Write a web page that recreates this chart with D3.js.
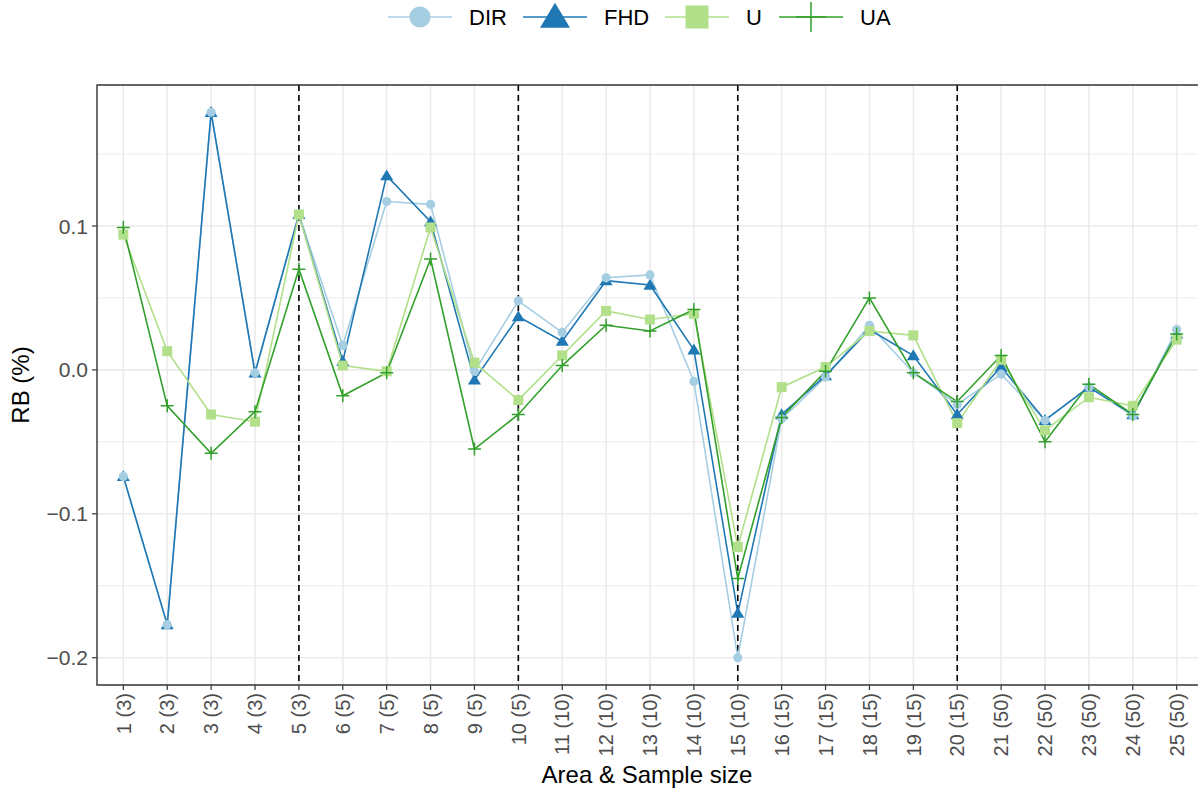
<!DOCTYPE html>
<html>
<head>
<meta charset="utf-8">
<script src="https://cdnjs.cloudflare.com/ajax/libs/d3/7.8.5/d3.min.js"></script>
<style>
  body { margin: 0; background: #fff; }
  svg { display: block; font-family: "Liberation Sans", Arial, sans-serif; }
</style>
</head>
<body>
<div id="chart"></div>
<script>
// areas & sample sizes
var areas = ["1 (3)","2 (3)","3 (3)","4 (3)","5 (3)","6 (5)","7 (5)","8 (5)","9 (5)","10 (5)",
  "11 (10)","12 (10)","13 (10)","14 (10)","15 (10)","16 (15)","17 (15)","18 (15)","19 (15)","20 (15)",
  "21 (50)","22 (50)","23 (50)","24 (50)","25 (50)"];

var dir = [-0.074,-0.177,0.179,-0.002,0.108,0.017,0.117,0.115,-0.001,0.048,
  0.026,0.064,0.066,-0.008,-0.200,-0.034,-0.005,0.031,-0.002,-0.024,
  -0.003,-0.035,-0.012,-0.032,0.028];
var fhd = [-0.074,-0.177,0.179,-0.002,0.108,0.006,0.135,0.103,-0.007,0.037,
  0.020,0.062,0.059,0.014,-0.169,-0.031,-0.004,0.028,0.010,-0.031,
  0.002,-0.035,-0.012,-0.031,0.025];
var u = [0.094,0.013,-0.031,-0.036,0.108,0.003,-0.001,0.099,0.005,-0.021,
  0.010,0.041,0.035,0.039,-0.123,-0.012,0.002,0.027,0.024,-0.037,
  0.007,-0.042,-0.019,-0.025,0.021];
var ua = [0.099,-0.025,-0.058,-0.029,0.070,-0.018,-0.002,0.077,-0.055,-0.031,
  0.003,0.031,0.027,0.042,-0.145,-0.033,-0.001,0.050,-0.002,-0.022,
  0.010,-0.050,-0.010,-0.031,0.025];

var yTicks = [-0.2,-0.1,0.0,0.1];
var yMinor = [-0.15,-0.05,0.05,0.15];
var dividers = ["5 (3)","10 (5)","15 (10)","20 (15)"];

var series = [
  {name:"DIR", vals:dir, color:"#a6cee3", shape:"circle"},
  {name:"FHD", vals:fhd, color:"#1f78b4", shape:"triangle"},
  {name:"U",   vals:u,   color:"#b2df8a", shape:"square"},
  {name:"UA",  vals:ua,  color:"#33a02c", shape:"plus"}
];

var W = 1198, H = 792;
var m = {top: 85, left: 97, right: 1203, bottom: 685};

var svg = d3.select("#chart").append("svg").attr("width", W).attr("height", H);

var x = d3.scalePoint().domain(areas).range([m.left, m.right]).padding(0.6);
var allV = dir.concat(fhd, u, ua);
var ext = d3.extent(allV), pad = (ext[1]-ext[0])*0.05;
var y = d3.scaleLinear().domain([ext[0]-pad, ext[1]+pad]).range([m.bottom, m.top]);

var panel = svg.append("g");
// grid
panel.selectAll(".ymin").data(yMinor).enter().append("line")
  .attr("x1", m.left).attr("x2", m.right)
  .attr("y1", d => y(d)).attr("y2", d => y(d))
  .attr("stroke", "#ebebeb").attr("stroke-width", 1);
panel.selectAll(".ymaj").data(yTicks).enter().append("line")
  .attr("x1", m.left).attr("x2", m.right)
  .attr("y1", d => y(d)).attr("y2", d => y(d))
  .attr("stroke", "#ebebeb").attr("stroke-width", 1.6);
panel.selectAll(".xmaj").data(areas).enter().append("line")
  .attr("x1", d => x(d)).attr("x2", d => x(d))
  .attr("y1", m.top).attr("y2", m.bottom)
  .attr("stroke", "#ebebeb").attr("stroke-width", 1.6);

// dashed dividers
panel.selectAll(".div").data(dividers).enter().append("line")
  .attr("x1", d => x(d)).attr("x2", d => x(d))
  .attr("y1", m.top).attr("y2", m.bottom)
  .attr("stroke", "#000").attr("stroke-width", 1.6).attr("stroke-dasharray", "6,4");

// lines
var line = d3.line().x((d, i) => x(areas[i])).y(d => y(d));
series.forEach(function(s) {
  panel.append("path").datum(s.vals).attr("d", line)
    .attr("fill", "none").attr("stroke", s.color).attr("stroke-width", 1.6);
});

function marker(g, shape, color, sc) {
  if (shape === "circle") {
    g.append("circle").attr("r", 4.6*sc).attr("fill", color);
  } else if (shape === "triangle") {
    var h = 6.2*sc;
    g.append("path").attr("d", "M0," + (-h) + "L" + (h*1.05) + "," + (h*0.75) + "L" + (-h*1.05) + "," + (h*0.75) + "Z").attr("fill", color);
  } else if (shape === "square") {
    g.append("rect").attr("x", -5*sc).attr("y", -5*sc).attr("width", 10*sc).attr("height", 10*sc).attr("fill", color);
  } else {
    var a = 6.5*sc;
    g.append("path").attr("d", "M" + (-a) + ",0H" + a + "M0," + (-a) + "V" + a)
      .attr("stroke", color).attr("stroke-width", 1.5).attr("fill", "none");
  }
}

// points: FHD under DIR
var order = [1, 0, 2, 3];
order.forEach(function(k) {
  var s = series[k];
  s.vals.forEach(function(v, i) {
    var g = panel.append("g").attr("transform", "translate(" + x(areas[i]) + "," + y(v) + ")");
    marker(g, s.shape, s.color, 1);
  });
});

// panel border (left, top, bottom)
svg.append("path")
  .attr("d", "M" + m.right + "," + m.top + "H" + m.left + "V" + m.bottom + "H" + m.right)
  .attr("fill", "none").attr("stroke", "#333").attr("stroke-width", 1.4);

// y axis
var yAx = svg.append("g");
yTicks.forEach(function(t) {
  yAx.append("line").attr("x1", m.left - 5).attr("x2", m.left).attr("y1", y(t)).attr("y2", y(t))
    .attr("stroke", "#333").attr("stroke-width", 1.2);
  yAx.append("text").attr("x", m.left - 9).attr("y", y(t)).attr("dy", "0.36em")
    .attr("text-anchor", "end").attr("fill", "#4d4d4d").style("font-size", "21px")
    .text(d3.format(".1f")(t).replace("-", "\u2212"));
});

// x axis
var xAx = svg.append("g");
areas.forEach(function(a) {
  xAx.append("line").attr("x1", x(a)).attr("x2", x(a)).attr("y1", m.bottom).attr("y2", m.bottom + 5)
    .attr("stroke", "#333").attr("stroke-width", 1.2);
  xAx.append("text")
    .attr("transform", "translate(" + x(a) + "," + (m.bottom + 8) + ") rotate(-90)")
    .attr("dy", "0.36em").attr("text-anchor", "end")
    .attr("fill", "#4d4d4d").style("font-size", "20px").text(a);
});

// titles
svg.append("text").attr("x", 647).attr("y", 783).attr("text-anchor", "middle")
  .style("font-size", "24px").attr("fill", "#000").text("Area & Sample size");
svg.append("text").attr("transform", "translate(29,385) rotate(-90)").attr("text-anchor", "middle")
  .style("font-size", "24px").attr("fill", "#000").text("RB (%)");

// legend
var legX = [388, 523, 665, 779];
var leg = svg.append("g");
series.forEach(function(s, i) {
  var g = leg.append("g").attr("transform", "translate(" + legX[i] + ",17)");
  g.append("line").attr("x1", 0).attr("x2", 64).attr("stroke", s.color).attr("stroke-width", 1.6);
  var mk = g.append("g").attr("transform", "translate(32,0)");
  marker(mk, s.shape, s.color, 2.3);
  g.append("text").attr("x", 81).attr("dy", "0.36em").style("font-size", "22px").attr("fill", "#000").text(s.name);
});
</script>
</body>
</html>
